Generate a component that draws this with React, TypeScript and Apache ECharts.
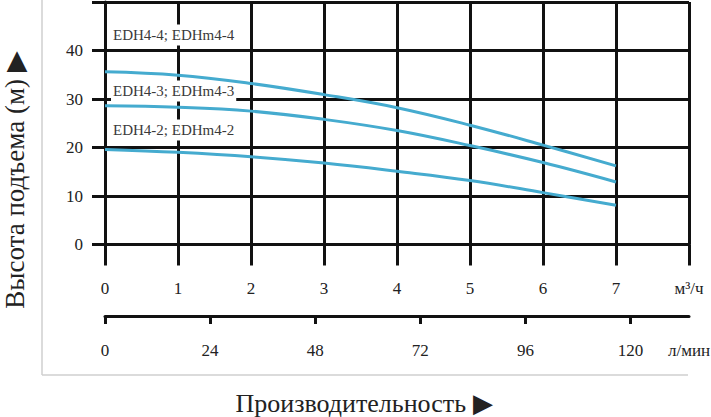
import React, { useEffect, useRef } from "react";
import * as echarts from "echarts";

const flowM3h = [0, 1, 2, 3, 4, 5, 6, 7];
const headEDH44 = [35.6, 34.9, 33.2, 30.9, 28.2, 24.6, 20.5, 16.2];
const headEDH43 = [28.6, 28.3, 27.5, 25.8, 23.5, 20.4, 16.9, 12.9];
const headEDH42 = [19.6, 19.0, 18.1, 16.8, 15.1, 13.2, 10.7, 8.1];
const seriesNames = ["EDH4-4; EDHm4-4", "EDH4-3; EDHm4-3", "EDH4-2; EDHm4-2"];
const lminTicks = [0, 24, 48, 72, 96, 120];
const m3hUnit = "м³/ч";
const lminUnit = "л/мин";
const yTitle = "Высота подъема (м) ▶";
const xTitle = "Производительность ▶";

const FONT = "Liberation Serif";
const BLACK = "#111";

export default function App() {
  const ref = useRef<HTMLDivElement>(null);
  useEffect(() => {
    document.body.style.margin = "0";
    if (!ref.current) return;
    const chart = echarts.init(ref.current, null, { renderer: "svg" });
    const lminMax = 8 * 1000 / 60;
    const heads = [headEDH44, headEDH43, headEDH42];
    const labelY = [35, 91, 130];
    const labelStyle = { fontSize: 17, color: "#222", fontFamily: FONT };
    chart.setOption({
      animation: false,
      backgroundColor: "#fff",
      textStyle: { fontFamily: FONT },
      grid: { left: 105, right: 22, top: 2, bottom: 172.5, containLabel: false, outerBoundsMode: "none" },
      xAxis: [
        {
          type: "value",
          min: 0,
          max: 8,
          interval: 1,
          position: "bottom",
          axisLine: { show: true, lineStyle: { color: BLACK, width: 3 } },
          axisTick: { show: true, length: 21, lineStyle: { color: BLACK, width: 3 } },
          splitLine: { show: true, lineStyle: { color: BLACK, width: 3 } },
          axisLabel: {
            ...labelStyle,
            margin: 35,
            formatter: (v: number) => (v === 8 ? m3hUnit : String(v)),
          },
        },
        {
          type: "value",
          min: 0,
          max: lminMax,
          position: "bottom",
          offset: 71.5,
          axisLine: { show: true, lineStyle: { color: BLACK, width: 3 } },
          axisTick: { show: true, length: 8, customValues: lminTicks, lineStyle: { color: BLACK, width: 3 } },
          splitLine: { show: false },
          axisLabel: {
            ...labelStyle,
            margin: 26,
            customValues: [...lminTicks, lminMax],
            formatter: (v: number) => (v > 121 ? lminUnit : String(v)),
          },
        },
      ],
      yAxis: {
        type: "value",
        min: 0,
        max: 50,
        interval: 10,
        axisLine: { show: true, lineStyle: { color: BLACK, width: 3 } },
        axisTick: { show: true, length: 13, lineStyle: { color: BLACK, width: 3 } },
        splitLine: { show: true, lineStyle: { color: BLACK, width: 3 } },
        axisLabel: {
          ...labelStyle,
          margin: 22,
          formatter: (v: number) => (v === 50 ? "" : String(v)),
        },
      },
      series: heads.map((h, k) => ({
        name: seriesNames[k],
        type: "line",
        smooth: 0.4,
        showSymbol: false,
        xAxisIndex: 0,
        lineStyle: { color: "#45abcf", width: 3 },
        data: flowM3h.map((x, i) => [x, h[i]]),
        z: 5,
      })),
      graphic: [
        { type: "line", shape: { x1: 42, y1: 0, x2: 42, y2: 375 }, style: { stroke: "#cfcfcf", lineWidth: 1.5 } },
        { type: "line", shape: { x1: 42, y1: 375, x2: 688, y2: 375 }, style: { stroke: "#cfcfcf", lineWidth: 1.5 } },
        ...seriesNames.map((n, k) => ({
          type: "text",
          x: 111,
          y: labelY[k],
          z: 1,
          style: {
            text: n,
            fontSize: 15,
            fontFamily: FONT,
            fill: "#3a3a3a",
            verticalAlign: "middle",
            align: "left",
            backgroundColor: "#fff",
            padding: [3, 2, 3, 2],
          },
        })),
        {
          type: "text",
          x: 15,
          y: 180,
          rotation: Math.PI / 2,
          style: { text: yTitle, fontSize: 27, fontFamily: FONT, fill: "#222", align: "center", verticalAlign: "middle" },
        },
        {
          type: "text",
          x: 364,
          y: 403,
          style: { text: xTitle, fontSize: 26, fontFamily: FONT, fill: "#222", align: "center", verticalAlign: "middle" },
        },
      ],
    });
    return () => chart.dispose();
  }, []);
  return <div ref={ref} style={{ width: 711, height: 417 }} />;
}
